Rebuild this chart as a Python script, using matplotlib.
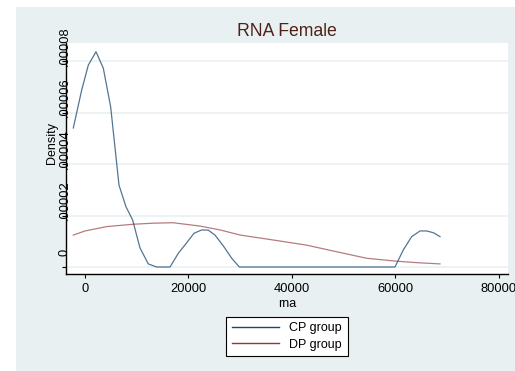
#!/usr/bin/env python3
# kernel density of rna by group, female subsample

import matplotlib
matplotlib.use("Agg")
import matplotlib.pyplot as plt
import matplotlib.patches as mpatches
import matplotlib.transforms as mtransforms

plt.rcParams["font.family"] = ["Liberation Sans", "DejaVu Sans"]

# CP group density (evaluated points)
cp_x = [-2260, -640, 640, 2130, 3540, 4960, 6570, 7920, 9200, 10630, 12230,
        13850, 16430, 18030, 19650, 21060, 22550, 23830, 25120, 26730, 28350,
        29820, 40000, 50000, 59900, 61500, 63130, 64750, 66040, 67330, 68600]
cp_y = [5.40e-5, 6.87e-5, 7.84e-5, 8.36e-5, 7.72e-5, 6.22e-5, 3.18e-5, 2.34e-5,
        1.83e-5, 7.4e-6, 1.2e-6, 0.0, 0.0, 5.3e-6, 9.4e-6, 1.31e-5, 1.44e-5,
        1.43e-5, 1.24e-5, 8.2e-6, 3.4e-6, 0.0, 0.0, 0.0, 0.0, 6.6e-6, 1.18e-5,
        1.40e-5, 1.40e-5, 1.33e-5, 1.18e-5]

# DP group density
dp_x = [-2260, 0, 4200, 9300, 13000, 17000, 22200, 26100, 30000, 36000,
        42800, 48000, 54400, 59900, 64000, 68600]
dp_y = [1.24e-5, 1.40e-5, 1.57e-5, 1.66e-5, 1.70e-5, 1.72e-5, 1.59e-5, 1.44e-5,
        1.24e-5, 1.06e-5, 8.5e-6, 6.2e-6, 3.4e-6, 2.3e-6, 1.7e-6, 1.2e-6]

xticks = [0, 20000, 40000, 60000, 80000]
yticks = [0, 0.00002, 0.00004, 0.00006, 0.00008]
ytick_labels = ["0", ".00002", ".00004", ".00006", ".00008"]

W, H = 515, 371
bg = "#e9f0f2"

fig = plt.figure(figsize=(W / 100, H / 100), dpi=100)
fig.patch.set_facecolor("white")
fig.patches.append(mpatches.Rectangle((16 / W, 0), 1 - 16 / W, 1 - 7 / H,
                                      transform=fig.transFigure,
                                      facecolor=bg, edgecolor="none", zorder=-10))

ax = fig.add_axes([66 / W, 1 - 274 / H, (508 - 66) / W, (274 - 43) / H])
ax.set_facecolor("white")

l1, = ax.plot(cp_x, cp_y, color="#1a476f", lw=0.9, alpha=0.75)
l2, = ax.plot(dp_x, dp_y, color="#90353b", lw=0.9, alpha=0.65)

ax.set_xlim(-3670, 81740)
ax.set_ylim(-2.72e-6, 8.70e-5)
ax.set_xticks(xticks)
ax.set_xticklabels([str(v) for v in xticks])
ax.set_yticks(yticks)
ax.set_yticklabels(ytick_labels, rotation=90, va="center")

ax.grid(axis="y", color="#eaf1f3", lw=1.2)
ax.set_axisbelow(True)
for s in ("top", "right"):
    ax.spines[s].set_visible(False)
for s in ("left", "bottom"):
    ax.spines[s].set_linewidth(1.0)
ax.tick_params(axis="x", length=3, width=0.8, pad=3.5, labelsize=9.3, colors="black")
ax.tick_params(axis="y", length=3, width=0.8, pad=-6.5, labelsize=9.3)

# lift the rotated y labels above their ticks
off = mtransforms.ScaledTranslation(0, 15 / 100, fig.dpi_scale_trans)
for lab in ax.get_yticklabels():
    lab.set_transform(lab.get_transform() + off)

ax.set_xlabel("rna", fontsize=9, labelpad=2)
ax.set_ylabel("Density", fontsize=9, va="center")
ax.yaxis.set_label_coords((52 - 66) / 442, (274 - 143) / 231)

fig.text(287 / W, 1 - 31 / H, "RNA Female", ha="center", va="center",
         fontsize=12.7, color="#4f2219")

leg = fig.legend([l1, l2], ["CP group", "DP group"], loc="center",
                 bbox_to_anchor=(287 / W, 1 - 336.5 / H), fontsize=9,
                 handlelength=3.8, labelspacing=0.35, borderpad=0.45,
                 fancybox=False, framealpha=1, edgecolor="black")
leg.get_frame().set_linewidth(0.8)
for h in leg.legend_handles:
    h.set_alpha(1.0)
    h.set_linewidth(1.0)

plt.savefig("out.png", dpi=100)
